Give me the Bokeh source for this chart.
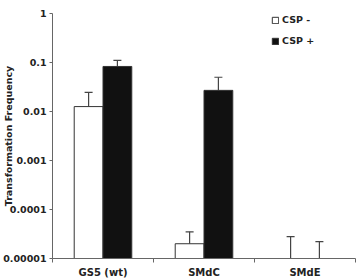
from bokeh.plotting import figure
from bokeh.models import (Range1d, FixedTicker, Whisker, TeeHead, ColumnDataSource,
                          Legend, LegendItem)
from bokeh.embed import file_html
from bokeh.resources import INLINE

# Strains and transformation frequencies (without / with CSP)
strains = ["GS5 (wt)", "SMdC", "SMdE"]
csp_minus = [0.0126, 2.0e-5, 0.0]
csp_plus = [0.083, 0.027, 0.0]
err_minus = [0.012, 1.5e-5, 2.8e-5]
err_plus = [0.028, 0.023, 2.2e-5]
y_ticks = [1e-5, 1e-4, 1e-3, 1e-2, 1e-1, 1]
y_tick_labels = ["0.00001", "0.0001", "0.001", "0.01", "0.1", "1"]

FONT = "DejaVu Sans"
Y_MIN, Y_MAX = 1e-5, 1.0
BAR_W = 0.285
OFFSET = BAR_W / 2

p = figure(width=363, height=280, y_axis_type="log",
           x_range=Range1d(0, len(strains)), y_range=Range1d(Y_MIN, Y_MAX),
           output_backend="svg", toolbar_location=None,
           min_border_left=52, min_border_right=8, min_border_top=13, min_border_bottom=19)
p.outline_line_color = None
p.xgrid.visible = False
p.ygrid.visible = False


def bar_source(vals, errs, shift):
    xs, tops, lows, ups, bx = [], [], [], [], []
    for i, (v, e) in enumerate(zip(vals, errs)):
        x = i + 0.5 + shift
        if v > 0:
            xs.append(x)
            tops.append(v)
        base = v if v > 0 else Y_MIN
        bx.append(x)
        lows.append(base)
        ups.append(v + e)
    return (ColumnDataSource(dict(x=xs, top=tops)),
            ColumnDataSource(dict(x=bx, lower=lows, upper=ups)))


bars_m, err_m = bar_source(csp_minus, err_minus, -OFFSET)
bars_p, err_p = bar_source(csp_plus, err_plus, OFFSET)

r_m = p.vbar(x="x", top="top", bottom=Y_MIN, width=BAR_W, source=bars_m,
             fill_color="white", line_color="#333333", line_width=1)
r_p = p.vbar(x="x", top="top", bottom=Y_MIN, width=BAR_W, source=bars_p,
             fill_color="#111111", line_color="#333333", line_width=1)

for src in (err_m, err_p):
    w = Whisker(base="x", lower="lower", upper="upper", source=src,
                line_color="#444444", line_width=1.2,
                upper_head=TeeHead(size=8, line_color="#444444", line_width=1.2),
                lower_head=None)
    p.add_layout(w)

# x axis: labels at category centres, tick marks at category boundaries
xa = p.xaxis[0]
xa.ticker = FixedTicker(ticks=[i + 0.5 for i in range(len(strains))],
                        minor_ticks=list(range(len(strains) + 1)))
xa.major_label_overrides = {i + 0.5: s for i, s in enumerate(strains)}
xa.major_tick_out = 0
xa.major_tick_in = 0
xa.minor_tick_out = 4
xa.minor_tick_in = 0
xa.major_label_standoff = 4
xa.major_label_text_font = FONT
xa.major_label_text_font_style = "bold"
xa.major_label_text_font_size = "10px"
xa.major_label_text_color = "#222222"
xa.axis_line_color = "#666666"
xa.minor_tick_line_color = "#666666"

ya = p.yaxis[0]
ya.ticker = FixedTicker(ticks=y_ticks, minor_ticks=[])
ya.major_label_overrides = {t: l for t, l in zip(y_ticks, y_tick_labels)}
ya.major_tick_out = 3
ya.major_tick_in = 0
ya.minor_tick_out = 0
ya.minor_tick_in = 0
ya.major_label_standoff = 3
ya.major_label_text_font = FONT
ya.major_label_text_font_style = "bold"
ya.major_label_text_font_size = "9.5px"
ya.major_label_text_color = "#222222"
ya.axis_line_color = "#666666"
ya.major_tick_line_color = "#666666"
ya.axis_label = "Transformation Frequency"
ya.axis_label_text_font = FONT
ya.axis_label_text_font_style = "bold"
ya.axis_label_text_font_size = "9.5px"
ya.axis_label_text_color = "#222222"
ya.axis_label_standoff = -14

legend = Legend(items=[LegendItem(label="CSP -", renderers=[r_m]),
                       LegendItem(label="CSP +", renderers=[r_p])],
                location=(219, 212), orientation="vertical")
legend.background_fill_alpha = 0
legend.border_line_color = None
legend.glyph_width = 8
legend.glyph_height = 8
legend.label_height = 8
legend.label_standoff = 3
legend.spacing = 10
legend.padding = 0
legend.margin = 0
legend.label_text_font = FONT
legend.label_text_font_style = "bold"
legend.label_text_font_size = "9.5px"
legend.label_text_color = "#222222"
p.add_layout(legend, "center")

open("out.html", "w").write(file_html(p, INLINE))
